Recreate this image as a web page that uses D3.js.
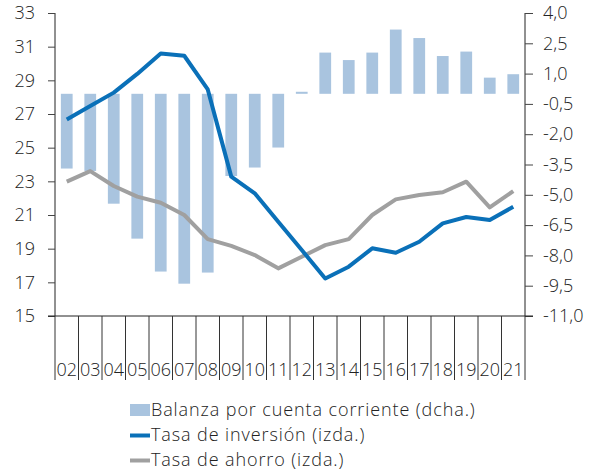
<!DOCTYPE html>
<html>
<head>
<meta charset="utf-8">
<script src="https://cdn.jsdelivr.net/npm/d3@7"></script>
<style>
  html, body { margin: 0; padding: 0; background: #fff; }
  svg { display: block; }
  text { font-family: "Open Sans", Lato, sans-serif; font-weight: 300; fill: #222; }
</style>
</head>
<body>
<svg id="chart" width="607" height="471"></svg>
<script>
const years = ["02","03","04","05","06","07","08","09","10","11","12","13","14","15","16","17","18","19","20","21"];
const balanza = [-3.70,-3.82,-5.44,-7.17,-8.80,-9.40,-8.85,-4.07,-3.65,-2.66,0.10,2.04,1.67,2.04,3.18,2.76,1.87,2.09,0.80,0.97];
const inversion = [26.68,27.47,28.27,29.38,30.60,30.46,28.46,23.28,22.29,20.60,18.92,17.23,17.93,19.02,18.76,19.41,20.50,20.88,20.70,21.49];
const ahorro = [22.98,23.61,22.72,22.09,21.73,21.00,19.57,19.17,18.62,17.83,18.52,19.21,19.57,21.00,21.93,22.19,22.35,22.98,21.45,22.42];
const leftTicks = [15,17,19,21,23,25,27,29,31,33];
const rightTicks = [-11,-9.5,-8,-6.5,-5,-3.5,-2,-0.5,1,2.5,4];
const legendLabels = ["Balanza por cuenta corriente (dcha.)","Tasa de inversión (izda.)","Tasa de ahorro (izda.)"];

const colBar = "#a9c4df", colInv = "#0a70b8", colAho = "#a0a0a0";
const L = 55, R = 525, T = 13, B = 316;
const svg = d3.select("#chart");

const x = d3.scaleBand().domain(years).range([L, R]).paddingInner(0).paddingOuter(0);
const yL = d3.scaleLinear().domain([15, 33]).range([B, T]);
const yR = d3.scaleLinear().domain([-11, 4]).range([B, T]);
const fmtR = v => d3.format(".1f")(v).replace(".", ",").replace("−", "-");

// bars
const bw = x.bandwidth() * 0.5;
svg.append("g").selectAll("rect").data(balanza).join("rect")
  .attr("x", (d, i) => x(years[i]) + (x.bandwidth() - bw) / 2)
  .attr("y", d => Math.min(yR(d), yR(0)))
  .attr("width", bw)
  .attr("height", d => Math.abs(yR(d) - yR(0)))
  .attr("fill", colBar);

// lines
const cx = i => x(years[i]) + x.bandwidth() / 2;
const line = d3.line().x((d, i) => cx(i)).y(d => yL(d));
svg.append("path").attr("d", line(ahorro)).attr("fill", "none")
  .attr("stroke", colAho).attr("stroke-width", 4).attr("stroke-linejoin", "round");
svg.append("path").attr("d", line(inversion)).attr("fill", "none")
  .attr("stroke", colInv).attr("stroke-width", 4).attr("stroke-linejoin", "round");

// left axis
const axL = svg.append("g").attr("transform", `translate(${L},0)`)
  .call(d3.axisLeft(yL).tickValues(leftTicks).tickSize(7).tickPadding(13).tickFormat(d3.format("d")));
// right axis
const axR = svg.append("g").attr("transform", `translate(${R},0)`)
  .call(d3.axisRight(yR).tickValues(rightTicks).tickSize(8).tickPadding(10).tickFormat(fmtR));
[axL, axR].forEach(a => {
  a.select(".domain").attr("stroke", "#222").attr("d", `M0,${T}V${B}`);
  a.selectAll(".tick line").attr("stroke", "#444");
  a.selectAll("text").style("font-size", "18px").attr("fill", "#222");
});

// x axis baseline
svg.append("line").attr("x1", 48).attr("x2", 533).attr("y1", B).attr("y2", B).attr("stroke", "#222");
// category boundary ticks
const bounds = years.map(y => x(y)).concat([R]);
svg.append("g").selectAll("line").data(bounds).join("line")
  .attr("x1", d => d).attr("x2", d => d).attr("y1", B).attr("y2", 380)
  .attr("stroke", "#333");
svg.append("g").selectAll("text").data(years).join("text")
  .attr("x", d => x(d) + x.bandwidth() / 2).attr("y", 376)
  .attr("text-anchor", "middle").style("font-size", "18px")
  .text(d => d);

// legend
const lg = svg.append("g");
lg.append("rect").attr("x", 130).attr("y", 404).attr("width", 20).attr("height", 12).attr("fill", colBar);
lg.append("line").attr("x1", 130).attr("x2", 150).attr("y1", 435.5).attr("y2", 435.5).attr("stroke", colInv).attr("stroke-width", 4);
lg.append("line").attr("x1", 130).attr("x2", 150).attr("y1", 460.5).attr("y2", 460.5).attr("stroke", colAho).attr("stroke-width", 4);
lg.selectAll("text").data(legendLabels).join("text")
  .attr("x", 151).attr("y", (d, i) => 410 + i * 25).attr("dy", "0.35em")
  .style("font-size", "18px").style("letter-spacing", "0.9px").text(d => d);
</script>
</body>
</html>
